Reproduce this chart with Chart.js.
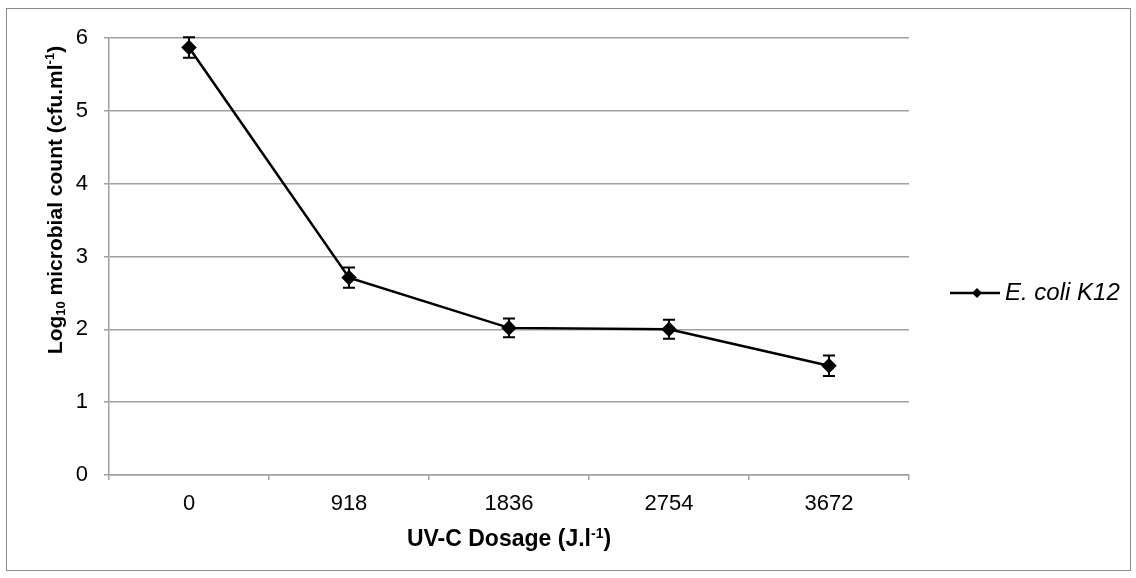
<!DOCTYPE html>
<html>
<head>
<meta charset="utf-8">
<script src="https://cdn.jsdelivr.net/npm/chart.js@4"></script>
<style>
  html, body { margin: 0; padding: 0; background: #fff; }
  #wrap { width: 1136px; height: 578px; }
</style>
</head>
<body>
<div id="wrap"><canvas id="uvChart" width="1136" height="578"></canvas></div>
<script>
const dosages = ["0", "918", "1836", "2754", "3672"];
const logCounts = [5.87, 2.71, 2.02, 2.00, 1.50];
const errBars = [0.14, 0.14, 0.13, 0.13, 0.14];
const yTicks = [0, 1, 2, 3, 4, 5, 6];
const seriesName = "E. coli K12";

const FONT = "'Liberation Sans', Arial, sans-serif";
const GRID = "#a0a0a0";

// draws a run of text pieces, some of them raised or lowered
function drawRich(ctx, parts, x, y) {
  let total = 0;
  parts.forEach(p => {
    ctx.font = p.font;
    p.w = ctx.measureText(p.text).width;
    total += p.w;
  });
  let cx = x - total / 2;
  parts.forEach(p => {
    ctx.font = p.font;
    ctx.fillText(p.text, cx, y + (p.dy || 0));
    cx += p.w;
  });
}

const bold = "bold 23px " + FONT;
const boldSmall = "bold 14px " + FONT;
const yBold = "bold 21px " + FONT;
const yBoldSmall = "bold 13px " + FONT;

const extras = {
  id: "extras",
  beforeDraw(chart) {
    const ctx = chart.ctx;
    ctx.save();
    ctx.fillStyle = "#fff";
    ctx.fillRect(0, 0, chart.width, chart.height);
    ctx.strokeStyle = "#8c8c8c";
    ctx.lineWidth = 1;
    ctx.strokeRect(6.5, 8.5, 1124, 562);
    ctx.restore();
  },
  afterDatasetsDraw(chart) {
    const ctx = chart.ctx;
    const xs = chart.scales.x;
    const ys = chart.scales.y;
    ctx.save();
    ctx.strokeStyle = "#000";
    ctx.lineWidth = 2;
    logCounts.forEach((v, i) => {
      const px = xs.getPixelForValue(i);
      const top = ys.getPixelForValue(v + errBars[i]);
      const bot = ys.getPixelForValue(v - errBars[i]);
      ctx.beginPath();
      ctx.moveTo(px, top);
      ctx.lineTo(px, bot);
      ctx.moveTo(px - 6, top);
      ctx.lineTo(px + 6, top);
      ctx.moveTo(px - 6, bot);
      ctx.lineTo(px + 6, bot);
      ctx.stroke();
    });
    ctx.restore();
  },
  afterDraw(chart) {
    const ctx = chart.ctx;
    const area = chart.chartArea;
    ctx.save();
    ctx.fillStyle = "#000";
    ctx.textBaseline = "middle";

    // x axis title
    drawRich(ctx, [
      { text: "UV-C Dosage (J.l", font: bold },
      { text: "-1", font: boldSmall, dy: -6 },
      { text: ")", font: bold }
    ], (area.left + area.right) / 2, 540);

    // y axis title
    ctx.translate(56, 200);
    ctx.rotate(-Math.PI / 2);
    drawRich(ctx, [
      { text: "Log", font: yBold },
      { text: "10", font: yBoldSmall, dy: 5 },
      { text: " microbial count (cfu.ml", font: yBold },
      { text: "-1", font: yBoldSmall, dy: -6 },
      { text: ")", font: yBold }
    ], 0, 0);
    ctx.setTransform(1, 0, 0, 1, 0, 0);

    // legend
    const ly = 293;
    ctx.strokeStyle = "#000";
    ctx.lineWidth = 2.5;
    ctx.beginPath();
    ctx.moveTo(950, ly);
    ctx.lineTo(1000, ly);
    ctx.stroke();
    ctx.beginPath();
    ctx.moveTo(977, ly - 5);
    ctx.lineTo(982, ly);
    ctx.lineTo(977, ly + 5);
    ctx.lineTo(972, ly);
    ctx.closePath();
    ctx.fill();
    ctx.font = "italic 24px " + FONT;
    ctx.textAlign = "left";
    ctx.fillText(seriesName, 1005, ly);
    ctx.restore();
  }
};

new Chart(document.getElementById("uvChart"), {
  type: "line",
  data: {
    labels: dosages,
    datasets: [
      {
        label: seriesName,
        data: logCounts,
        borderColor: "#000",
        backgroundColor: "#000",
        borderWidth: 2.5,
        pointStyle: "rectRot",
        pointRadius: 6,
        pointHoverRadius: 6,
        tension: 0
      }
    ]
  },
  options: {
    responsive: false,
    animation: false,
    events: [],
    layout: { padding: { top: 38, right: 227, left: 0, bottom: 0 } },
    plugins: {
      legend: { display: false },
      tooltip: { enabled: false }
    },
    scales: {
      x: {
        type: "category",
        offset: true,
        afterFit(scale) { scale.height = 103; },
        grid: {
          offset: true,
          drawOnChartArea: false,
          color: GRID,
          tickLength: 5,
          lineWidth: 1.5
        },
        border: { color: GRID, width: 1.5 },
        ticks: {
          color: "#000",
          padding: 11,
          font: { family: FONT, size: 22 }
        }
      },
      y: {
        min: 0,
        max: 6,
        afterFit(scale) { scale.width = 109; },
        afterBuildTicks(scale) {
          scale.ticks = yTicks.map(v => ({ value: v }));
        },
        grid: {
          color: GRID,
          lineWidth: 1.5,
          tickLength: 5
        },
        border: { color: GRID, width: 1.5 },
        ticks: {
          color: "#000",
          padding: 16,
          font: { family: FONT, size: 22 }
        }
      }
    }
  },
  plugins: [extras]
});
</script>
</body>
</html>
